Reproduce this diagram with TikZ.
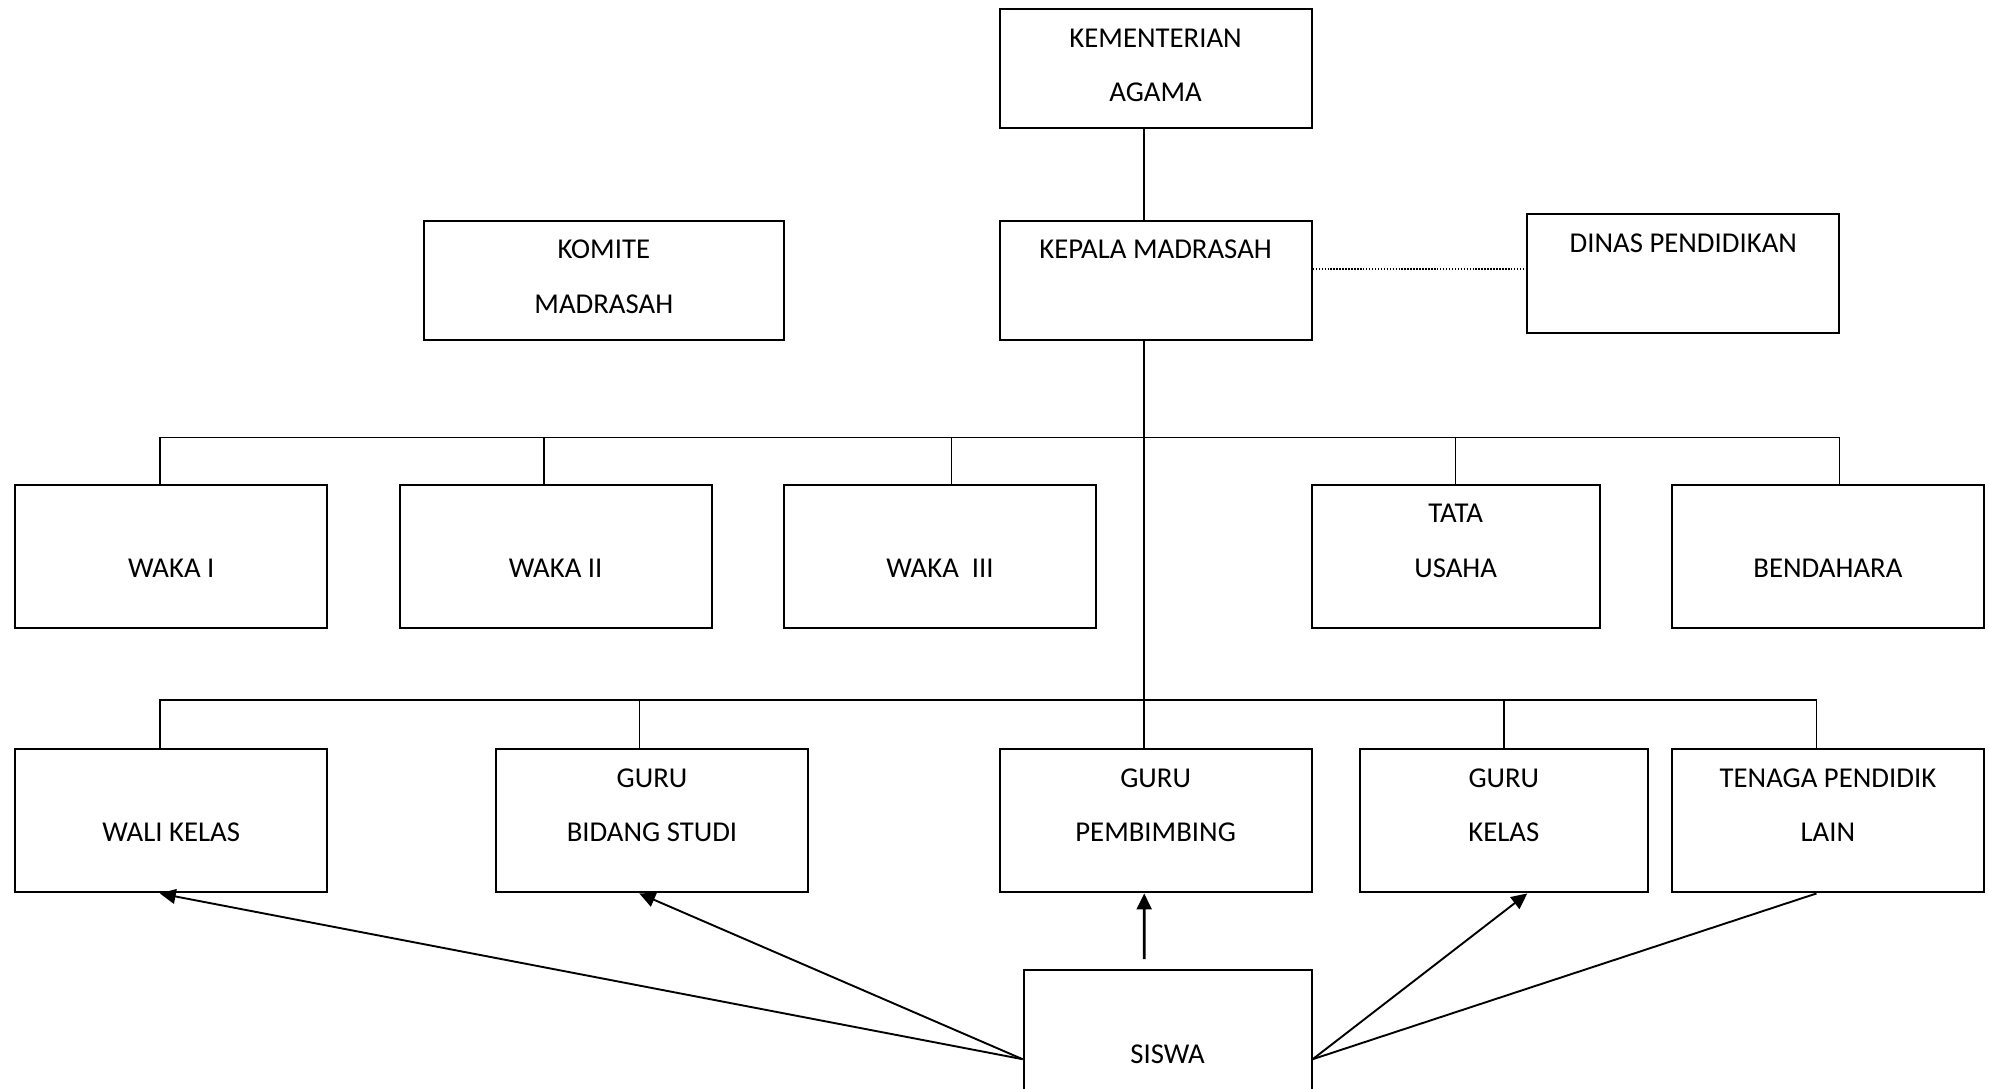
\documentclass[tikz,border=0pt]{standalone}
\usepackage{fontspec}
\setmainfont{Carlito}
\usetikzlibrary{arrows.meta,positioning}
\newcommand{\toptext}[2]{\rule{0pt}{18.1pt}#1\\#2\rule[-12.5pt]{0pt}{0pt}}
\newcommand{\rowtext}[2]{\rule{0pt}{18.1pt}#1\\#2\rule[-23.9pt]{0pt}{0pt}}
\tikzset{
    unit/.style = {
        draw,
        line width=1pt,
        inner sep=0pt,
        minimum width=147.6pt,
        align=center,
        font=\fontsize{13.6}{25.8}\selectfont,
        },
    short/.style = {
        minimum height=56.4pt,
        },
    tall/.style = {
        minimum height=67.8pt,
        },
    narrow/.style = {
        minimum width=136.2pt,
        },
    link/.style = {
        draw,
        line width=0.75pt,
        },
    dots/.style = {
        draw,
        line width=0.55pt,
        dash pattern=on 0.7pt off 0.7pt,
        },
    to unit/.style = {
        draw,
        line width=0.9pt,
        -{Triangle[length=7.5pt,width=7pt]},
        },
}

\begin{document}
\begin{tikzpicture}[x=0.6pt, y=-0.6pt]
            \useasboundingbox (0,0) rectangle (1568,858);

            % top
            \node[unit, short] (kemenag) at (911,54) {\toptext{KEMENTERIAN}{AGAMA}};
            \node[unit, short] (kepala) at (911,221) {\toptext{KEPALA MADRASAH}{}};
            \node[unit, short, minimum width=170.4pt] (komite) at (476,221) {\toptext{KOMITE}{MADRASAH}};
            \node[unit, short] (dinas) at (1327,215.5) {\toptext{DINAS PENDIDIKAN}{}};

            % wakil dan staf
            \node[unit, tall] (waka1) at (135,438.5) {\rowtext{}{WAKA I}};
            \node[unit, tall] (waka2) at (438,438.5) {\rowtext{}{WAKA II}};
            \node[unit, tall] (waka3) at (741,438.5) {\rowtext{}{WAKA\ \ III}};
            \node[unit, tall, narrow] (tu) at (1147.5,438.5) {\rowtext{TATA}{USAHA}};
            \node[unit, tall] (bendahara) at (1441,438.5) {\rowtext{}{BENDAHARA}};

            % guru
            \node[unit, tall] (wali) at (135,647) {\rowtext{}{WALI KELAS}};
            \node[unit, tall] (gurubs) at (514,647) {\rowtext{GURU}{BIDANG STUDI}};
            \node[unit, tall] (gurubk) at (911,647) {\rowtext{GURU}{PEMBIMBING}};
            \node[unit, tall, narrow] (gurukls) at (1185.5,647) {\rowtext{GURU}{KELAS}};
            \node[unit, tall] (tenaga) at (1441,647) {\rowtext{TENAGA PENDIDIK}{LAIN}};

            \node[unit, tall, narrow] (siswa) at (920.5,821.5) {\rowtext{}{SISWA}};

            \coordinate (bus1) at (902,345);
            \coordinate (bus2) at (902,552);

            \path[link] ([xshift=-5.4pt]kemenag.south) -- ([xshift=-5.4pt]kepala.north);
            \path[link] ([xshift=-5.4pt]kepala.south) -- ([xshift=-5.4pt]gurubk.north);
            \path[dots] ([yshift=5.4pt]kepala.east) -- ([yshift=5.4pt]kepala.east -| dinas.west);

            \foreach \n/\dx in {waka1/-5.4pt, waka2/-5.4pt, waka3/5.4pt, tu/0pt, bendahara/5.4pt}
                \path[link] ([xshift=\dx]\n.north) |- (bus1);
            \foreach \n/\dx in {wali/-5.4pt, gurubs/-6pt, gurukls/0pt, tenaga/-5.4pt}
                \path[link] ([xshift=\dx]\n.north) |- (bus2);

            \path[to unit] ([yshift=-8.1pt]siswa.west) -- ([xshift=-5.4pt]wali.south);
            \path[to unit] ([yshift=-8.1pt]siswa.west) -- ([xshift=-6pt]gurubs.south);
            \path[to unit, line width=1.3pt] ([xshift=-11.1pt,yshift=4.8pt]siswa.north) -- ([xshift=-5.4pt]gurubk.south);
            \path[to unit] ([yshift=-8.1pt]siswa.east) -- ([xshift=11.1pt]gurukls.south);
            \path[link, line width=0.9pt] ([yshift=-8.1pt]siswa.east) -- ([xshift=-5.4pt]tenaga.south);
        \end{tikzpicture}
\end{document}
